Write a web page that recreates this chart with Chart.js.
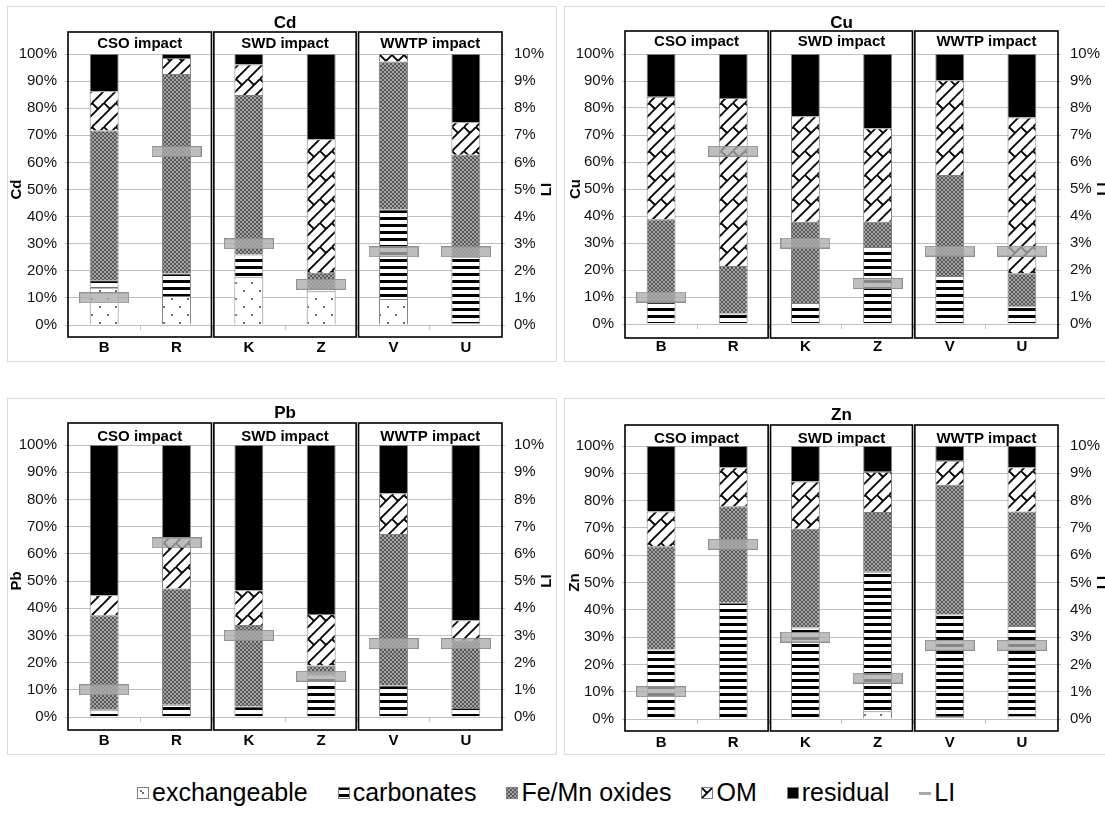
<!DOCTYPE html>
<html><head><meta charset="utf-8">
<script src="https://cdn.jsdelivr.net/npm/chart.js@4.4.1/dist/chart.umd.min.js"></script>
<style>
html,body{margin:0;padding:0;background:#fff;width:1105px;height:818px;overflow:hidden;position:relative;font-family:"Liberation Sans",Arial,sans-serif;}
.frame{position:absolute;border:1px solid #d9d9d9;box-sizing:border-box;}
canvas.pc{position:absolute;}
#legend{position:absolute;left:137px;top:774px;height:36px;display:flex;align-items:center;font-size:25px;color:#000;}
#legend .it{display:flex;align-items:center;margin-right:30px;}
#legend .it:last-child{margin-right:0;}
#legend canvas{margin-right:3px;margin-top:2px;}
</style></head><body>
<div class="frame" style="left:7px;top:6px;width:550px;height:356px"></div>
<div class="frame" style="left:564px;top:6px;width:600px;height:356px"></div>
<div class="frame" style="left:7px;top:398px;width:550px;height:357px"></div>
<div class="frame" style="left:564px;top:398px;width:600px;height:357px"></div>
<canvas class="pc" id="c1"></canvas>
<canvas class="pc" id="c2"></canvas>
<canvas class="pc" id="c3"></canvas>
<canvas class="pc" id="c4"></canvas>
<div id="legend"></div>
<script>
// ---------- data ----------
const categories = ['B','R','K','Z','V','U'];
const impactGroups = ['CSO impact','SWD impact','WWTP impact'];
const fractionNames = ['exchangeable','carbonates','Fe/Mn oxides','OM','residual'];
const liName = 'LI';
const yTicksPct = [0,10,20,30,40,50,60,70,80,90,100];
const liTicksPct = [0,1,2,3,4,5,6,7,8,9,10];
const LI = [1.0, 6.4, 3.0, 1.5, 2.7, 2.7];

const cdExchangeable = [13.7, 10.7, 17.8, 12.5, 9.6, 0.6];
const cdCarbonates   = [2.8, 8.3, 8.2, 0.6, 33.0, 24.6];
const cdFeMn         = [55.3, 73.6, 58.9, 6.2, 54.6, 37.6];
const cdOM           = [14.5, 5.9, 11.2, 49.2, 2.8, 12.0];
const cdResidual     = [13.7, 1.5, 3.9, 31.5, 0.0, 25.2];

const cuExchangeable = [0.3, 0.3, 0.3, 0.3, 0.3, 0.3];
const cuCarbonates   = [7.8, 3.6, 7.5, 28.2, 17.5, 6.3];
const cuFeMn         = [30.7, 17.6, 30.1, 9.4, 37.4, 12.2];
const cuOM           = [45.4, 62.2, 39.0, 34.6, 35.1, 57.7];
const cuResidual     = [15.8, 16.3, 23.1, 27.5, 9.7, 23.5];

const pbExchangeable = [0.3, 0.3, 0.3, 0.3, 0.3, 0.3];
const pbCarbonates   = [2.4, 4.2, 3.6, 15.2, 11.3, 3.0];
const pbFeMn         = [34.7, 42.7, 29.9, 3.4, 55.7, 24.7];
const pbOM           = [7.4, 18.7, 12.8, 19.0, 15.0, 7.6];
const pbResidual     = [55.2, 34.1, 53.4, 62.1, 17.7, 64.4];

const znExchangeable = [0.5, 0.5, 0.5, 2.8, 0.8, 1.0];
const znCarbonates   = [25.0, 42.1, 33.0, 51.1, 37.5, 33.1];
const znFeMn         = [37.8, 35.3, 36.2, 21.9, 47.5, 41.9];
const znOM           = [12.7, 14.3, 17.3, 14.8, 8.8, 16.2];
const znResidual     = [24.0, 7.8, 13.0, 9.4, 5.4, 7.8];

// ---------- styles ----------
const FONT = '"Liberation Sans", Arial, sans-serif';
const tmp = document.createElement('canvas').getContext('2d');
function tile(w,h,draw){const c=document.createElement('canvas');c.width=w;c.height=h;const g=c.getContext('2d');draw(g,w,h);return c;}
const exchTile = tile(16,16,(g)=>{g.fillStyle='#fff';g.fillRect(0,0,16,16);g.fillStyle='#6e6e6e';g.fillRect(3,3,2,2);g.fillRect(11,11,2,2);});
const carbTile = tile(4,7,(g)=>{g.fillStyle='#fff';g.fillRect(0,0,4,7);g.fillStyle='#000';g.fillRect(0,0,4,3);});
const femnTile = tile(4,4,(g)=>{g.fillStyle='#575757';g.fillRect(0,0,4,4);g.fillStyle='#a4a4a4';g.fillRect(0,0,2,2);g.fillRect(2,2,2,2);});
const omTile = tile(24,24,(g,T)=>{g.fillStyle='#fff';g.fillRect(0,0,T,T);g.strokeStyle='#000';g.lineWidth=1.8;g.beginPath();
  for(let c=-T;c<=3*T;c+=12){g.moveTo(c,0);g.lineTo(c-T,T);}
  const segs=[[0,0,6,6],[12,0,18,6]];
  for(const s of segs)for(const dx of [-T,0,T])for(const dy of [-T,0,T]){g.moveTo(s[0]+dx,s[1]+dy);g.lineTo(s[2]+dx,s[3]+dy);}
  g.stroke();});
const fills = [
  tmp.createPattern(exchTile,'repeat'),
  tmp.createPattern(carbTile,'repeat'),
  tmp.createPattern(femnTile,'repeat'),
  tmp.createPattern(omTile,'repeat'),
  '#000000'
];
const liImg = tile(50,11,(g)=>{g.fillStyle='rgba(172,172,172,0.78)';g.fillRect(0,0,50,11);g.strokeStyle='rgba(140,140,140,0.9)';g.lineWidth=1;g.strokeRect(0.5,0.5,49,10);});

// ---------- layout of panels (page px) ----------
const panels = [
 {id:'c1', metal:'Cd', series:[cdExchangeable,cdCarbonates,cdFeMn,cdOM,cdResidual], ox:8, oy:7, w:548, h:354, left:68, right:502, top:54, bottom:325, boxTop:32, boxBottom:337, titleY:23, groupY:44, xLabelY:348, yTitleX:17, liTitleX:547},
 {id:'c2', metal:'Cu', series:[cuExchangeable,cuCarbonates,cuFeMn,cuOM,cuResidual], ox:565, oy:7, w:540, h:354, left:625, right:1058, top:54, bottom:324, boxTop:31, boxBottom:338, titleY:23, groupY:42, xLabelY:347, yTitleX:576, liTitleX:1103},
 {id:'c3', metal:'Pb', series:[pbExchangeable,pbCarbonates,pbFeMn,pbOM,pbResidual], ox:8, oy:399, w:548, h:355, left:68, right:502, top:445, bottom:717, boxTop:423, boxBottom:730, titleY:413, groupY:437, xLabelY:741, yTitleX:17, liTitleX:547},
 {id:'c4', metal:'Zn', series:[znExchangeable,znCarbonates,znFeMn,znOM,znResidual], ox:565, oy:399, w:540, h:355, left:625, right:1058, top:446, bottom:719, boxTop:425, boxBottom:731, titleY:415, groupY:439, xLabelY:743, yTitleX:575, liTitleX:1103}
];

const decor = {
  id:'decor',
  afterDraw(chart){
    const P = chart.options.plugins.decor.P;
    const {ctx, chartArea, scales} = chart;
    const x = scales.x;
    const cw = x.getPixelForValue(1) - x.getPixelForValue(0);
    ctx.save();
    ctx.fillStyle='#000'; ctx.textAlign='center'; ctx.textBaseline='middle';
    ctx.font='bold 17px '+FONT;
    ctx.fillText(P.metal, (chartArea.left+chartArea.right)/2, P.titleY-P.oy);
    ctx.strokeStyle='#000'; ctx.lineWidth=1.6;
    const bt=P.boxTop-P.oy, bb=P.boxBottom-P.oy;
    ctx.font='bold 15px '+FONT;
    for(let g=0; g<impactGroups.length; g++){
      let l = x.getPixelForValue(2*g) - cw/2;
      let r = x.getPixelForValue(2*g+1) + cw/2;
      if(g>0) l += 1.2;
      if(g<impactGroups.length-1) r -= 1.2;
      ctx.strokeRect(l, bt, r-l, bb-bt);
      ctx.fillText(impactGroups[g], (l+r)/2, P.groupY-P.oy);
    }
    const cy = (chartArea.top+chartArea.bottom)/2;
    ctx.save(); ctx.translate(P.yTitleX-P.ox, cy); ctx.rotate(-Math.PI/2); ctx.fillText(P.metal,0,0); ctx.restore();
    ctx.save(); ctx.translate(P.liTitleX-P.ox, cy); ctx.rotate(-Math.PI/2); ctx.fillText(liName,0,0); ctx.restore();
    ctx.restore();
  }
};

function build(P){
  const cv = document.getElementById(P.id);
  cv.width=P.w; cv.height=P.h; cv.style.left=P.ox+'px'; cv.style.top=P.oy+'px'; cv.style.width=P.w+'px'; cv.style.height=P.h+'px';
  const datasets = [{
    type:'line', label:liName, data:LI, yAxisID:'y2', showLine:false, order:-1,
    pointStyle:liImg, pointRadius:6, pointHoverRadius:6
  }];
  fractionNames.forEach((n,i)=>datasets.push({
    type:'bar', label:n, data:P.series[i], yAxisID:'y', backgroundColor:fills[i],
    borderColor:'#7f7f7f', borderWidth:1, barPercentage:0.4, categoryPercentage:1.0
  }));
  const xPad = (P.xLabelY - P.bottom) - 5 - 9;
  new Chart(cv, {
    data:{labels:categories, datasets},
    plugins:[decor],
    options:{
      responsive:false, animation:false, devicePixelRatio:1,
      layout:{padding:{top:P.top-P.oy, left:0, right:0, bottom:0}},
      plugins:{legend:{display:false}, tooltip:{enabled:false}, decor:{P}},
      scales:{
        x:{type:'category', stacked:true, offset:true,
          grid:{display:true, drawOnChartArea:false, drawTicks:true, tickLength:5, color:'#bfbfbf', offset:true},
          border:{display:true, color:'#bfbfbf'},
          ticks:{font:{family:FONT,size:15,weight:'bold'}, color:'#000', padding:xPad, maxRotation:0, autoSkip:false},
          afterFit(s){ s.height = P.h - (P.bottom - P.oy); }
        },
        y:{type:'linear', position:'left', stacked:true, min:0, max:100,
          grid:{color:'#c0c0c0', tickLength:3, drawTicks:true},
          border:{display:false},
          ticks:{font:{family:FONT,size:15}, color:'#111', padding:8, callback:v=>v+'%'},
          afterBuildTicks(s){ s.ticks = yTicksPct.map(v=>({value:v})); },
          afterFit(s){ s.width = P.left - P.ox; }
        },
        y2:{type:'linear', position:'right', min:0, max:10,
          grid:{drawOnChartArea:false, tickLength:3, drawTicks:true, color:'#c0c0c0'},
          border:{display:false},
          ticks:{font:{family:FONT,size:15}, color:'#111', padding:9, callback:v=>v+'%'},
          afterBuildTicks(s){ s.ticks = liTicksPct.map(v=>({value:v})); },
          afterFit(s){ s.width = P.w - (P.right - P.ox); }
        }
      }
    }
  });
}
panels.forEach(build);

// ---------- legend ----------
const lg = document.getElementById('legend');
function addItem(name, drawIcon){
  const it=document.createElement('div'); it.className='it';
  const c=document.createElement('canvas'); c.width=12; c.height=12; drawIcon(c.getContext('2d'));
  const s=document.createElement('span'); s.textContent=name;
  it.appendChild(c); it.appendChild(s); lg.appendChild(it);
}
fractionNames.forEach((n,i)=>addItem(n,(g)=>{
  g.fillStyle=fills[i]; g.fillRect(0,0,12,12);
  if(i===0){g.fillStyle='#6e6e6e';g.fillRect(5,5,2,2);}
  g.strokeStyle='#7f7f7f'; g.lineWidth=1; g.strokeRect(0.5,0.5,11,11);
}));
addItem(liName,(g)=>{g.fillStyle='#a8a8a8';g.fillRect(0,5,12,3);});
</script>
</body></html>
